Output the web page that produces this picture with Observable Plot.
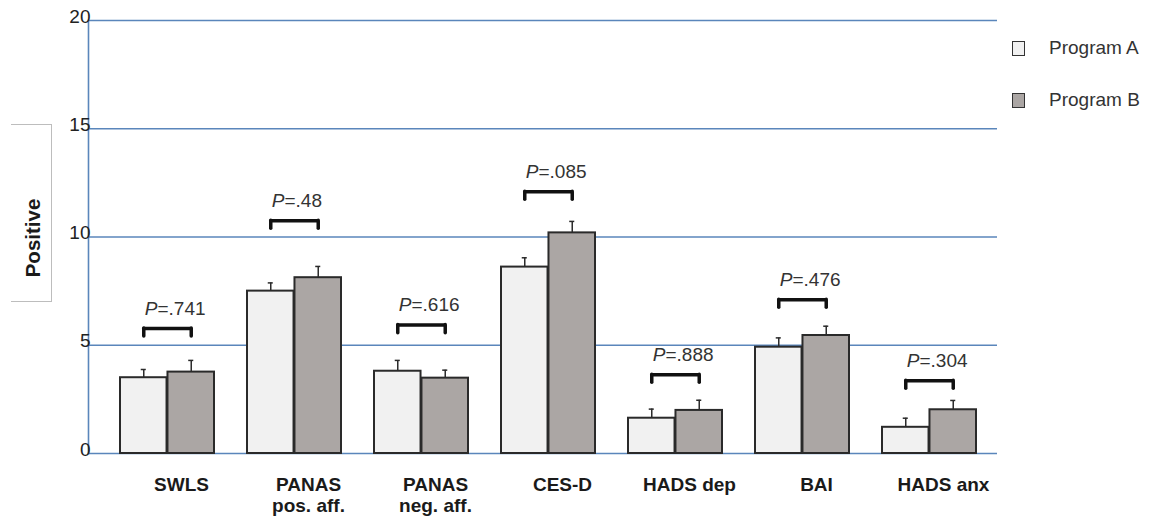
<!DOCTYPE html>
<html><head><meta charset="utf-8">
<script src="https://cdn.jsdelivr.net/npm/d3@7"></script>
<script src="https://cdn.jsdelivr.net/npm/@observablehq/plot@0.6"></script>
<style>
body{margin:0;background:#fff;font-family:"Liberation Sans",Arial,sans-serif;}
#wrap{position:relative;width:1149px;height:522px;overflow:hidden;}
#wrap svg{position:absolute;left:0;top:0;}
.ybox{position:absolute;left:11px;top:124px;width:40px;height:176px;border:1.5px solid #bdbdbd;border-left:none;}
.ylab{position:absolute;left:33px;top:238px;transform:translate(-50%,-50%) rotate(-90deg);font-weight:bold;font-size:20.5px;color:#1a1a1a;white-space:nowrap;}
.leg{position:absolute;left:1012px;font-size:19px;color:#333;}
.leg .sw{position:absolute;left:0;width:11px;height:13px;border:1.6px solid #333;}
.leg .tx{position:absolute;left:37px;white-space:nowrap;line-height:20px;}
</style></head><body><div id="wrap"></div>
<script>
const categories = ["SWLS","PANAS\npos. aff.","PANAS\nneg. aff.","CES-D","HADS dep","BAI","HADS anx"];
const programA = [3.50,7.50,3.80,8.61,1.63,4.91,1.21];
const programB = [3.76,8.12,3.48,10.19,1.99,5.45,2.02];
const errorA = [0.38,0.38,0.50,0.43,0.42,0.43,0.42];
const errorB = [0.54,0.52,0.37,0.53,0.47,0.43,0.43];
const pLabels = ["P=.741","P=.48","P=.616","P=.085","P=.888","P=.476","P=.304"];
const bracketY = [5.77,10.75,5.93,12.09,3.64,7.10,3.36];
const yTicks = [0,5,10,15,20];
const seriesNames = ["Program A","Program B"];
const yLabel = "Positive";

const W = 1149, H = 522;
const M = {left: 88, right: 152, top: 20, bottom: 69};
const PAD = {inner: 0.257, outer: 0.185, align: 0.614};
const band = d3.scaleBand().domain(categories).range([M.left, W - M.right])
  .paddingInner(PAD.inner).paddingOuter(PAD.outer).align(PAD.align);
const bw = band.bandwidth();
const q = bw / 4;
const cap = 3;
const drop = 0.37;
const gridColor = "#5a86bb";
const fillA = "#f1f1f1", fillB = "#aba6a4", edge = "#2a2a2a";

const rows = categories.map((c, i) => ({
  cat: c, a: programA[i], b: programB[i],
  ea: programA[i] + errorA[i], eb: programB[i] + errorB[i],
  p: pLabels[i], br: bracketY[i]
}));

const plot = Plot.plot({
  width: W, height: H,
  marginLeft: M.left, marginRight: M.right, marginTop: M.top, marginBottom: M.bottom,
  x: {domain: categories, paddingInner: PAD.inner, paddingOuter: PAD.outer, align: PAD.align, axis: null},
  y: {domain: [0, 20], axis: null},
  style: {fontFamily: "'Liberation Sans', Arial, sans-serif", background: "transparent", overflow: "visible"},
  marks: [
    Plot.ruleY(yTicks, {stroke: gridColor, strokeWidth: 1.6}),
    Plot.frame({anchor: "left", stroke: gridColor, strokeWidth: 1.6}),
    Plot.text(yTicks, {y: d => d, text: d => String(d), frameAnchor: "left", textAnchor: "end", dx: 2, dy: -4, fontSize: 19, fill: "#222"}),
    Plot.barY(rows, {x: "cat", y: "a", fill: fillA, stroke: edge, strokeWidth: 2, insetRight: bw / 2}),
    Plot.barY(rows, {x: "cat", y: "b", fill: fillB, stroke: edge, strokeWidth: 2, insetLeft: bw / 2}),
    Plot.ruleX(rows, {x: "cat", y1: "a", y2: "ea", dx: -q, stroke: edge, strokeWidth: 1.5}),
    Plot.ruleX(rows, {x: "cat", y1: "b", y2: "eb", dx: q, stroke: edge, strokeWidth: 1.5}),
    Plot.tickY(rows, {x: "cat", y: "ea", insetLeft: q - cap, insetRight: 3 * q - cap, stroke: edge, strokeWidth: 1.5}),
    Plot.tickY(rows, {x: "cat", y: "eb", insetLeft: 3 * q - cap, insetRight: q - cap, stroke: edge, strokeWidth: 1.5}),
    Plot.tickY(rows, {x: "cat", y: "br", insetLeft: q, insetRight: q, stroke: "#111", strokeWidth: 3.5, strokeLinecap: "round"}),
    Plot.ruleX(rows, {x: "cat", y1: "br", y2: d => d.br - drop, dx: -q, stroke: "#111", strokeWidth: 3.5, strokeLinecap: "round"}),
    Plot.ruleX(rows, {x: "cat", y1: "br", y2: d => d.br - drop, dx: q, stroke: "#111", strokeWidth: 3.5, strokeLinecap: "round"}),
    Plot.text(rows, {x: "cat", y: "br", text: "p", textAnchor: "start", dx: -q + 1, dy: -20, fontSize: 19, fill: "#333"}),
    Plot.text(rows, {x: "cat", text: "cat", frameAnchor: "bottom", lineAnchor: "top", dy: 23, dx: 14, fontSize: 19, fontWeight: "bold", fill: "#1a1a1a", lineHeight: 1.08})
  ]
});

// italic "P" in the p-value labels
plot.querySelectorAll("text").forEach(t => {
  if (t.children.length === 0 && /^P=/.test(t.textContent)) {
    const rest = t.textContent.slice(1);
    t.textContent = "";
    const ns = "http://www.w3.org/2000/svg";
    const s1 = document.createElementNS(ns, "tspan");
    s1.setAttribute("font-style", "italic");
    s1.textContent = "P";
    const s2 = document.createElementNS(ns, "tspan");
    s2.textContent = rest;
    t.appendChild(s1); t.appendChild(s2);
  }
});

const wrap = document.getElementById("wrap");
wrap.appendChild(plot);

const box = document.createElement("div"); box.className = "ybox"; wrap.appendChild(box);
const yl = document.createElement("div"); yl.className = "ylab"; yl.textContent = yLabel; wrap.appendChild(yl);

const legTops = [41, 93];
seriesNames.forEach((name, i) => {
  const g = document.createElement("div");
  g.className = "leg"; g.style.top = legTops[i] + "px";
  const sw = document.createElement("div"); sw.className = "sw"; sw.style.background = i === 0 ? fillA : fillB;
  const tx = document.createElement("div"); tx.className = "tx"; tx.style.top = "-3px"; tx.textContent = name;
  g.appendChild(sw); g.appendChild(tx); wrap.appendChild(g);
});
</script>
</body></html>
